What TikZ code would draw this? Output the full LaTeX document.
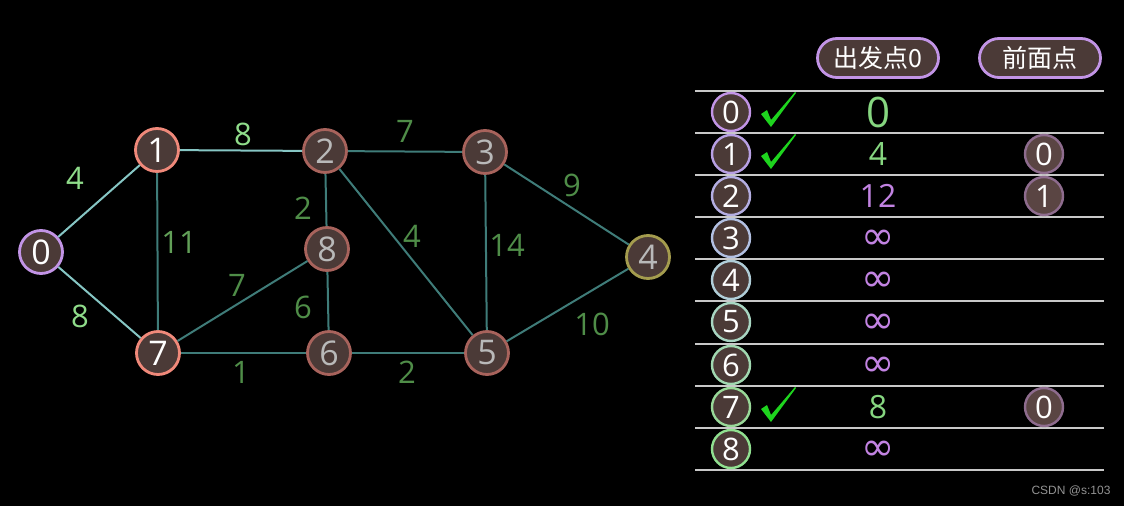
\documentclass[tikz,border=0pt]{standalone}
\usepackage{fontspec}
\usetikzlibrary{shapes.misc}
\setmainfont{Open Sans}
\newfontfamily\cjk{Noto Sans CJK SC}
\newfontfamily\symf{DejaVu Sans}
\newfontfamily\wmf{Liberation Sans}
\definecolor{nfill}{HTML}{4B3A37}
\definecolor{edgeA}{HTML}{86C6C4}
\definecolor{edgeB}{HTML}{3F7C79}
\definecolor{lblA}{HTML}{8FDC8A}
\definecolor{lblB}{HTML}{4F8D48}
\definecolor{lblC}{HTML}{62A058}
\definecolor{bPurple}{HTML}{C294E6}
\definecolor{bSalmon}{HTML}{F0897A}
\definecolor{bRed}{HTML}{A8635C}
\definecolor{bOlive}{HTML}{A49C4E}
\definecolor{rule}{HTML}{C8C8C8}
\definecolor{valPurple}{HTML}{C283E2}
\definecolor{valGreen}{HTML}{86D680}
\definecolor{chk}{HTML}{1ED41E}
\definecolor{prevB}{HTML}{8E6C8E}
\definecolor{prevF}{HTML}{5A4543}
\begin{document}
\begin{tikzpicture}[x=1pt,y=-1pt,
  gnode/.style={circle,draw=#1,line width=2.8pt,fill=nfill,minimum size=43pt,inner sep=0pt,
    font=\fontsize{34}{34}\selectfont},
  edgeh/.style={draw=edgeA,line width=2pt},
  edged/.style={draw=edgeB,line width=2pt},
  wlbl/.style={text=#1,font=\fontsize{31}{31}\selectfont,inner sep=0pt},
  rownode/.style={circle,draw=#1,line width=2.4pt,fill=nfill,minimum size=38pt,inner sep=0pt,
    text=white,font=\fontsize{31}{31}\selectfont},
  prevnode/.style={circle,draw=prevB,line width=2.4pt,fill=prevF,minimum size=38pt,inner sep=0pt,
    text=white,font=\fontsize{31}{31}\selectfont},
  valtxt/.style={text=#1,font=\fontsize{32}{32}\selectfont,inner sep=0pt},
  inftxt/.style={text=valPurple,font=\symf\fontsize{40}{40}\selectfont,inner sep=0pt},
  pill/.style={rounded rectangle,draw=bPurple,line width=2.8pt,fill=nfill,minimum width=121pt,
    minimum height=39pt,text=white,font=\cjk\fontsize{25}{25}\selectfont,inner sep=0pt},
  rulestyle/.style={draw=rule,line width=2pt},
  chkstyle/.style={fill=chk}
]
\useasboundingbox (0,0) rectangle (1124,506);
\fill[black] (0,0) rectangle (1124,506);

\coordinate (p0) at (41,252);
\coordinate (p1) at (157,150);
\coordinate (p2) at (325,151);
\coordinate (p3) at (485,152);
\coordinate (p4) at (648,257);
\coordinate (p5) at (487,353);
\coordinate (p6) at (329,353);
\coordinate (p7) at (158,353);
\coordinate (p8) at (327,249);

\node[gnode=bPurple,text=white] (n0) at (p0) {0};
\node[gnode=bSalmon,text=white] (n1) at (p1) {1};
\node[gnode=bRed,text=gray!55] (n2) at (p2) {2};
\node[gnode=bRed,text=gray!55] (n3) at (p3) {3};
\node[gnode=bOlive,text=gray!55] (n4) at (p4) {4};
\node[gnode=bRed,text=gray!55] (n5) at (p5) {5};
\node[gnode=bRed,text=gray!55] (n6) at (p6) {6};
\node[gnode=bSalmon,text=white] (n7) at (p7) {7};
\node[gnode=bRed,text=gray!55] (n8) at (p8) {8};

\draw[edgeh] (n0) -- (n1);
\draw[edgeh] (n0) -- (n7);
\draw[edgeh] (n1) -- (n2);
\draw[edged] (n1) -- (n7);
\draw[edged] (n2) -- (n3);
\draw[edged] (n2) -- (n8);
\draw[edged] (n2) -- (n5);
\draw[edged] (n3) -- (n5);
\draw[edged] (n3) -- (n4);
\draw[edged] (n5) -- (n4);
\draw[edged] (n8) -- (n7);
\draw[edged] (n8) -- (n6);
\draw[edged] (n7) -- (n6);
\draw[edged] (n6) -- (n5);

% edge weights
\node[wlbl=lblA] (w01) at (75,178) {4};
\node[wlbl=lblA] (w07) at (80,316) {8};
\node[wlbl=lblA] (w12) at (243,134) {8};
\node[wlbl=lblC] (w17) at (179,242) {11};
\node[wlbl=lblB] (w23) at (405,131) {7};
\node[wlbl=lblB] (w28) at (303,208) {2};
\node[wlbl=lblB] (w87) at (237,285) {7};
\node[wlbl=lblB] (w86) at (303,307) {6};
\node[wlbl=lblB] (w76) at (241,372) {1};
\node[wlbl=lblB] (w65) at (407,372) {2};
\node[wlbl=lblB] (w25) at (412,236) {4};
\node[wlbl=lblB] (w35) at (507,245) {14};
\node[wlbl=lblB] (w34) at (572,185) {9};
\node[wlbl=lblB] (w54) at (592,324) {10};

% table header
\node[pill] (h1) at (878,58) {出发点0};
\node[pill] (h2) at (1040,58) {前面点};

% table rules
\foreach \i/\yy in {0/91,1/133,2/175,3/217,4/259,5/301,6/344,7/386,8/428,9/470}{
  \coordinate (ra\i) at (695,\yy);
  \coordinate (rb\i) at (1104,\yy);
  \draw[rulestyle] (ra\i) -- (rb\i);
}

% row nodes
\foreach \i/\yy/\col in {0/112/C294E6,1/154/B8A0E4,2/196/B4AEE2,3/238/B2C0E2,4/280/B0CED8,5/322/A8D6C2,6/365/A0D8B0,7/407/98D898,8/449/90E090}{
  \definecolor{rc}{HTML}{\col}
  \node[rownode=rc] (r\i) at (731,\yy) {\i};
}

% check marks
\foreach \i/\yy in {0/112,1/154,7/407}{
  \coordinate (ca\i) at (761,\yy+2);
  \coordinate (cb\i) at (767,\yy-2);
  \coordinate (cc\i) at (771,\yy+8);
  \coordinate (cd\i) at (795,\yy-20);
  \coordinate (ce\i) at (796,\yy-19);
  \coordinate (cf\i) at (771,\yy+15);
  \fill[chkstyle] (ca\i) -- (cb\i) -- (cc\i) -- (cd\i) -- (ce\i) -- (cf\i) -- cycle;
}

% values
\node[valtxt=valGreen,font=\fontsize{42}{42}\selectfont] (v0) at (878,112) {0};
\node[valtxt=valGreen] (v1) at (878,154) {4};
\node[valtxt=valPurple] (v2) at (878,196) {12};
\node[inftxt] (v3) at (878,240) {∞};
\node[inftxt] (v4) at (878,282) {∞};
\node[inftxt] (v5) at (878,324) {∞};
\node[inftxt] (v6) at (878,367) {∞};
\node[valtxt=valGreen] (v7) at (878,407) {8};
\node[inftxt] (v8) at (878,451) {∞};

% previous nodes
\node[prevnode] (q1) at (1044,154) {0};
\node[prevnode] (q2) at (1044,196) {1};
\node[prevnode] (q7) at (1044,407) {0};

% watermark
\node[text=gray!85,font=\wmf\fontsize{12}{12}\selectfont,inner sep=0pt] (wm) at (1071,491) {CSDN @s:103};
\end{tikzpicture}
\end{document}
